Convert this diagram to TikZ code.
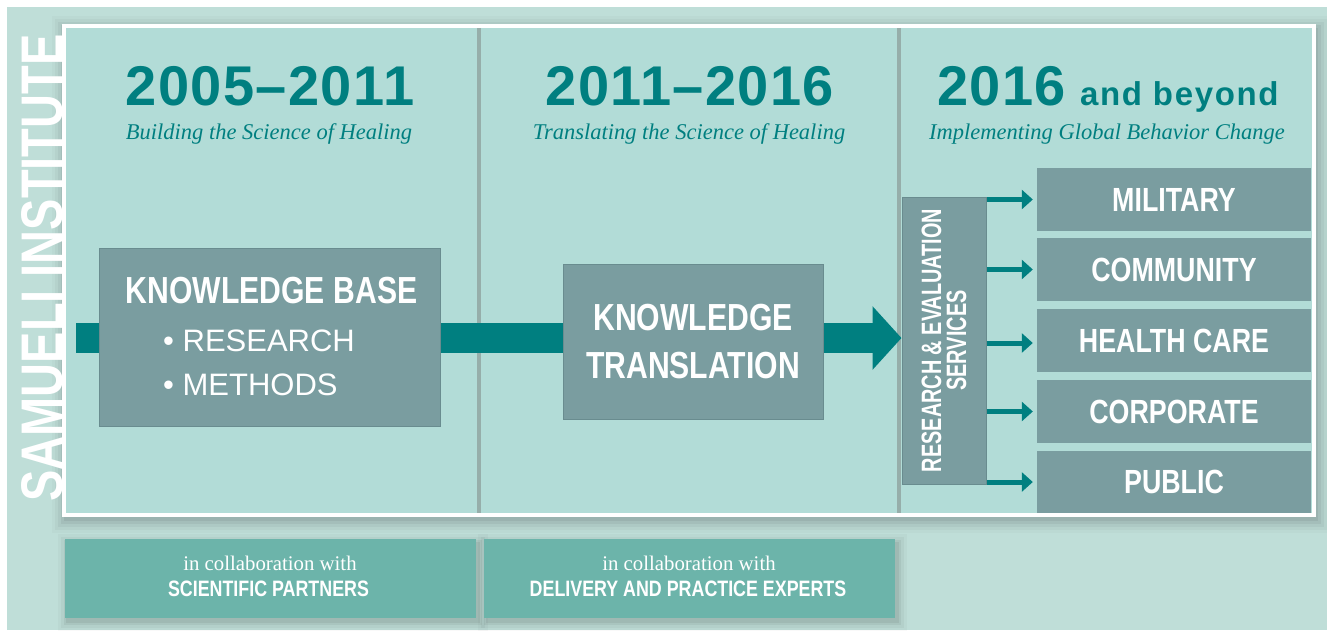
\documentclass[tikz,border=0pt]{standalone}
\usepackage{fontspec}
\setmainfont{Liberation Serif}
\setsansfont{Liberation Sans}
\newfontfamily\cond[FakeStretch=0.8]{Liberation Sans}
\newfontfamily\condn[FakeStretch=0.71]{Liberation Sans}
\newfontfamily\hdrfont[LetterSpace=2.5]{Liberation Sans}
\newfontfamily\hdrsmall[LetterSpace=5]{Liberation Sans}
\usetikzlibrary{arrows.meta}
\definecolor{bgout}{RGB}{191,222,216}
\definecolor{panelc}{RGB}{178,220,215}
\definecolor{tealc}{RGB}{0,127,128}
\definecolor{boxc}{RGB}{122,157,160}
\definecolor{boxedge}{RGB}{105,140,143}
\definecolor{collab}{RGB}{108,180,170}
\definecolor{divc}{RGB}{150,174,170}
\pgfdeclarelayer{back}
\pgfdeclarelayer{mid}
\pgfsetlayers{back,mid,main}
\begin{document}
\begin{tikzpicture}[x=1pt,y=-1pt,
  box/.style={fill=boxc, draw=boxedge, line width=1pt, inner sep=0pt, text=white},
  rbox/.style={fill=boxc, inner sep=0pt, minimum width=274pt, minimum height=63pt, text=white,
    font=\cond\bfseries\fontsize{33.5}{36}\selectfont},
  cbox/.style={fill=collab, inner sep=0pt, minimum width=411pt, minimum height=79pt},
  hdr/.style={anchor=base, inner sep=0pt, text=tealc, font=\hdrfont\bfseries\fontsize{56}{60}\selectfont},
  subt/.style={anchor=base, inner sep=0pt, text=tealc, font=\itshape\fontsize{22.5}{26}\selectfont},
  ctext/.style={anchor=base, inner sep=0pt, text=white, font=\fontsize{20.8}{24}\selectfont},
  cbold/.style={anchor=base, inner sep=0pt, text=white, font=\cond\bfseries\fontsize{22.3}{24}\selectfont},
  bar/.style={draw=tealc, line width=30pt},
  smallarrow/.style={draw=tealc, line width=5pt, -{Triangle[length=11pt,width=19pt]}, shorten >=4pt},
  divider/.style={draw=divc, line width=4.5pt}
]
\useasboundingbox (0,0) rectangle (1327,630);
\begin{pgfonlayer}{back}
\fill[white] (0,0) rectangle (1327,630);
\fill[bgout] (7,7) rectangle (1327,630);
\foreach \d/\o in {14/0.02,11/0.03,8/0.04,5/0.05,2/0.06}
  \fill[black,opacity=\o] (64-\d+2,26-\d+4) rectangle (1314+\d+2,515+\d+4);
\fill[panelc] (64,26) rectangle (1314,515);
\draw[divider] (479,28) -- (479,513);
\draw[divider] (899,28) -- (899,513);
\draw[white, line width=3.5pt] (64,26) rectangle (1314,515);
\end{pgfonlayer}

% vertical title
\node[rotate=90, anchor=base, inner sep=0pt, text=white,
  font=\cond\bfseries\fontsize{58.7}{60}\selectfont] (title) at (62,268) {SAMUELI INSTITUTE};

% headers
\node[hdr] (h1) at (270,105) {2005–2011};
\node[subt] (s1) at (269,139) {Building the Science of Healing};
\node[hdr] (h2) at (690,105) {2011–2016};
\node[subt] (s2) at (689,139) {Translating the Science of Healing};
\node[hdr] (h3) at (1108,105) {2016\hspace{14pt}{\hdrsmall\bfseries\fontsize{33}{36}\selectfont and beyond}};
\node[subt] (s3) at (1107,139) {Implementing Global Behavior Change};

% main boxes
\node[box, minimum width=341pt, minimum height=178pt] (kb) at (269.5,337) {};
\node[anchor=base, inner sep=0pt, text=white, font=\cond\bfseries\fontsize{37.7}{40}\selectfont] (kbt) at (271.5,303) {KNOWLEDGE BASE};
\node[anchor=base west, inner sep=0pt, text=white, font=\sffamily\fontsize{31}{34}\selectfont] (kb1) at (163,351) {• RESEARCH};
\node[anchor=base west, inner sep=0pt, text=white, font=\sffamily\fontsize{31}{34}\selectfont] (kb2) at (163,395) {• METHODS};

\node[box, minimum width=260pt, minimum height=155pt, align=center,
  font=\cond\bfseries\fontsize{37.7}{48}\selectfont] (kt) at (693,341.5) {KNOWLEDGE\\TRANSLATION};

\node[box, rotate=90, minimum width=287pt, minimum height=84pt, align=center,
  font=\condn\bfseries\fontsize{28}{25}\selectfont] (res) at (944,340.5) {RESEARCH \& EVALUATION\\SERVICES};

% right boxes
\node[rbox] (mil) at (1174,199.5) {MILITARY};
\node[rbox] (com) at (1174,269.5) {COMMUNITY};
\node[rbox] (hc) at (1174,340.5) {HEALTH CARE};
\node[rbox] (corp) at (1174,411.5) {CORPORATE};
\node[rbox, minimum height=62pt] (pub) at (1174,482) {PUBLIC};

% collaboration boxes
\node[cbox] (c1) at (270,578.5) {};
\node[cbox] (c2) at (689.5,578.5) {};
\node[ctext] (c1a) at (270,570) {in collaboration with};
\node[cbold] (c1b) at (268.5,596) {SCIENTIFIC PARTNERS};
\node[ctext] (c2a) at (689,570) {in collaboration with};
\node[cbold] (c2b) at (688,596) {DELIVERY AND PRACTICE EXPERTS};

\begin{pgfonlayer}{mid}
\foreach \n in {c1,c2}
  \foreach \d/\o in {9/0.025,6/0.035,3/0.05,1/0.06}
    \fill[black,opacity=\o] ([shift={(-\d+3,-\d+4)}]\n.north west) rectangle ([shift={(\d+3,\d+4)}]\n.south east);
\coordinate (start) at (76,338);
\draw[bar] (start) -- (kb.west |- start);
\draw[bar] (kb.east |- start) -- (kt.west |- start);
\draw[bar, -{Triangle[length=29pt,width=62pt]}] (kt.east |- start) -- (res.north |- start);
\end{pgfonlayer}

\draw[smallarrow] (res.south |- mil) -- (mil.west);
\draw[smallarrow] (res.south |- com) -- (com.west);
\draw[smallarrow] (res.south |- 0,343) -- (hc.west |- 0,343);
\draw[smallarrow] (res.south |- corp) -- (corp.west);
\draw[smallarrow] (res.south |- pub) -- (pub.west);
\end{tikzpicture}
\end{document}
